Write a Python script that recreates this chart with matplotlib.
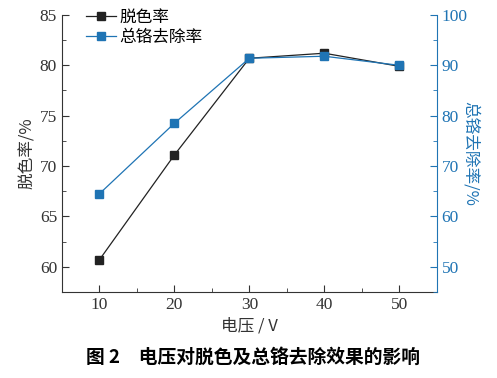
import numpy as np
import matplotlib
matplotlib.use('Agg')
import matplotlib.pyplot as plt
from matplotlib.ticker import MultipleLocator

plt.rcParams['font.family'] = ['Liberation Serif', 'Noto Sans CJK SC']

voltage = [10, 20, 30, 40, 50]
decolor = [60.7, 71.1, 80.7, 81.2, 79.9]      # 脱色率, left axis
cr_removal = [64.5, 78.5, 91.4, 91.8, 90.0]   # 总铬去除率, right axis

blue = '#1f74b4'
cjk = ['Noto Sans CJK SC', 'DejaVu Sans']

fig = plt.figure(figsize=(4.97, 3.78), dpi=100)
ax = fig.add_axes([0.1247, 0.2275, 0.754, 0.733])
ax2 = ax.twinx()

l1, = ax.plot(voltage, decolor, '-s', color='#222222', lw=0.9, ms=6,
              markerfacecolor='#222222', label='脱色率')
l2, = ax2.plot(voltage, cr_removal, '-s', color=blue, lw=0.9, ms=6,
               markerfacecolor=blue, label='总铬去除率')

ax.set_xlim(5, 55)
ax.set_ylim(57.5, 85)
ax2.set_ylim(45, 100)
ax.xaxis.set_major_locator(MultipleLocator(10))
ax.xaxis.set_minor_locator(MultipleLocator(5))
ax.yaxis.set_major_locator(MultipleLocator(5))
ax.yaxis.set_minor_locator(MultipleLocator(2.5))
ax2.yaxis.set_major_locator(MultipleLocator(10))
ax2.yaxis.set_minor_locator(MultipleLocator(5))

for a in (ax, ax2):
    a.spines['top'].set_visible(False)
ax.spines['right'].set_visible(False)
ax2.spines['left'].set_visible(False)
ax2.spines['bottom'].set_visible(False)
ax2.spines['right'].set_color(blue)
ax.spines['left'].set_color('#333333')
ax.spines['bottom'].set_color('#333333')

ax.tick_params(which='both', direction='in', labelsize=12.5, colors='#333333')
ax.tick_params(which='major', length=5)
ax.tick_params(which='minor', length=3)
ax2.tick_params(which='both', direction='in', labelsize=12.5, colors=blue)
ax2.tick_params(which='major', length=5)
ax2.tick_params(which='minor', length=3)

ax.set_ylabel('脱色率/%', family=cjk, fontsize=12, color='#333333', labelpad=3)
ax2.set_ylabel('总铬去除率/%', family=cjk, fontsize=12, color=blue,
               rotation=270, labelpad=8)
ax.set_xlabel('电压 / V', family=cjk, fontsize=12, color='#333333', labelpad=3)

leg = ax.legend(handles=[l1, l2], loc='upper left', bbox_to_anchor=(0.025, 1.075),
                frameon=False, prop={'family': cjk, 'size': 12},
                handlelength=1.8, handletextpad=0.2, labelspacing=0.15)

fig.text(0.51, 0.04, '图 2　电压对脱色及总铬去除效果的影响', ha='center',
         family=cjk, fontsize=13.5, fontweight='bold')

fig.savefig('out.png', dpi=100)
